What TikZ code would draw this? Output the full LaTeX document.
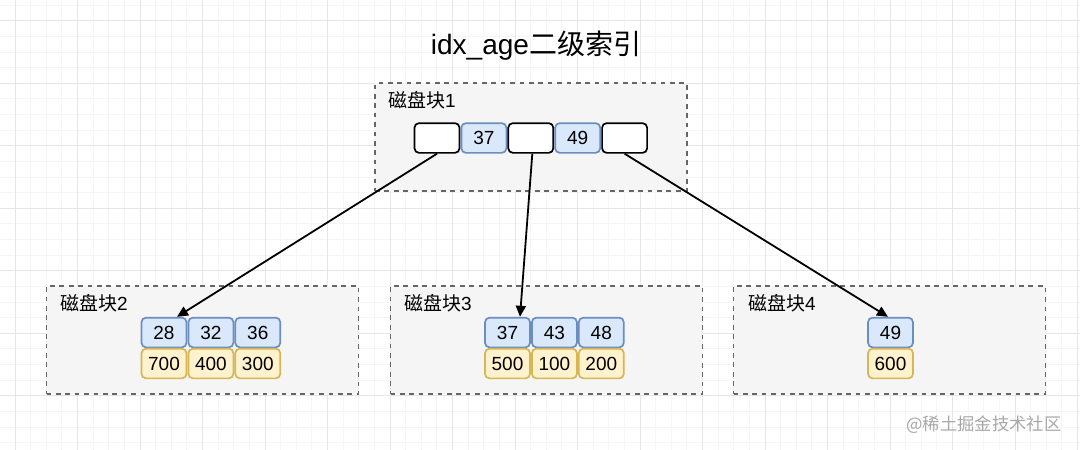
\documentclass[tikz,border=0pt]{standalone}
\usepackage{fontspec}
\setmainfont{Liberation Sans}
\newfontfamily\cjk{Noto Sans CJK SC}
\usetikzlibrary{arrows.meta}
\definecolor{blockfill}{HTML}{F5F5F5}
\definecolor{blockline}{HTML}{666666}
\definecolor{bluefill}{HTML}{DAE8FC}
\definecolor{blueline}{HTML}{6C8EBF}
\definecolor{yelfill}{HTML}{FFF2CC}
\definecolor{yelline}{HTML}{D6B656}
\definecolor{gridminor}{HTML}{F5F5F5}
\definecolor{gridmajor}{HTML}{E6E6E6}
\definecolor{wmark}{HTML}{A8A8A8}
\tikzset{
  diskblock/.style={draw=blockline, fill=blockfill, line width=1.9pt,
    dash pattern=on 4.7pt off 4.7pt, minimum width=312pt, minimum height=108pt, inner sep=0pt},
  cellbase/.style={rounded corners=4.5pt, line width=1.7pt, minimum width=45pt,
    minimum height=29.7pt, inner sep=0pt, font=\fontsize{19}{20}\selectfont},
  ptrcell/.style={cellbase, draw=black, fill=white},
  keycell/.style={cellbase, draw=blueline, fill=bluefill},
  valcell/.style={cellbase, draw=yelline, fill=yelfill},
  blocklabel/.style={anchor=west, inner sep=0pt, font=\fontsize{19}{20}\selectfont},
  link/.style={draw=black, line width=1.8pt, -{Triangle[length=11pt,width=10pt]}},
}
\begin{document}
\begin{tikzpicture}[x=1pt,y=-1pt]
\useasboundingbox (0,0) rectangle (1080,450);
\fill[white] (0,0) rectangle (1080,450);
% grid
\foreach \k in {0,...,69} \draw[gridminor, line width=1pt] ({-0.625+15.625*\k},0) -- ({-0.625+15.625*\k},450);
\foreach \j in {0,...,28} \draw[gridminor, line width=1pt] (0,{5.2+15.625*\j}) -- (1080,{5.2+15.625*\j});
\foreach \k in {0,...,17} \draw[gridmajor, line width=1pt] ({15+62.5*\k},0) -- ({15+62.5*\k},450);
\foreach \j in {0,...,6} \draw[gridmajor, line width=1pt] (0,{20.8+62.5*\j}) -- (1080,{20.8+62.5*\j});

% title
\node[inner sep=0pt, font=\fontsize{28}{30}\selectfont] (title) at (536,46) {idx\_age{\cjk 二级索引}};

% blocks
\node[diskblock] (blk1) at (531,137.3) {};
\node[diskblock] (blk2) at (202.5,340) {};
\node[diskblock] (blk3) at (546.5,340) {};
\node[diskblock] (blk4) at (889.5,340) {};

\node[blocklabel] (lab1) at (388,100.5) {{\cjk 磁盘块}1};
\node[blocklabel] (lab2) at (60,303) {{\cjk 磁盘块}2};
\node[blocklabel] (lab3) at (404,303) {{\cjk 磁盘块}3};
\node[blocklabel] (lab4) at (748,303) {{\cjk 磁盘块}4};

% block 1 cells
\node[ptrcell] (p1) at (437,138) {};
\node[keycell] (k1) at (483.9,138) {37};
\node[ptrcell] (p2) at (530.8,138) {};
\node[keycell] (k2) at (577.7,138) {49};
\node[ptrcell] (p3) at (624.6,138) {};

% block 2 cells
\node[keycell] (b2k1) at (164,332.5) {28};
\node[keycell] (b2k2) at (210.9,332.5) {32};
\node[keycell] (b2k3) at (257.8,332.5) {36};
\node[valcell] (b2v1) at (164,363.5) {700};
\node[valcell] (b2v2) at (210.9,363.5) {400};
\node[valcell] (b2v3) at (257.8,363.5) {300};

% block 3 cells
\node[keycell] (b3k1) at (507.5,332.5) {37};
\node[keycell] (b3k2) at (554.4,332.5) {43};
\node[keycell] (b3k3) at (601.3,332.5) {48};
\node[valcell] (b3v1) at (507.5,363.5) {500};
\node[valcell] (b3v2) at (554.4,363.5) {100};
\node[valcell] (b3v3) at (601.3,363.5) {200};

% block 4 cells
\node[keycell] (b4k1) at (890.5,332.5) {49};
\node[valcell] (b4v1) at (890.5,363.5) {600};

% links
\draw[link] (p1.south) -- ([xshift=13pt]b2k1.north);
\draw[link] ([xshift=1.5pt]p2.south) -- ([xshift=12.5pt]b3k1.north);
\draw[link] (p3.south) -- ([xshift=-2.5pt]b4k1.north);

% watermark
\node[inner sep=0pt, text=wmark, font=\cjk\fontsize{17.3}{18}\selectfont] (wm) at (984,425) {@稀土掘金技术社区};
\end{tikzpicture}
\end{document}
